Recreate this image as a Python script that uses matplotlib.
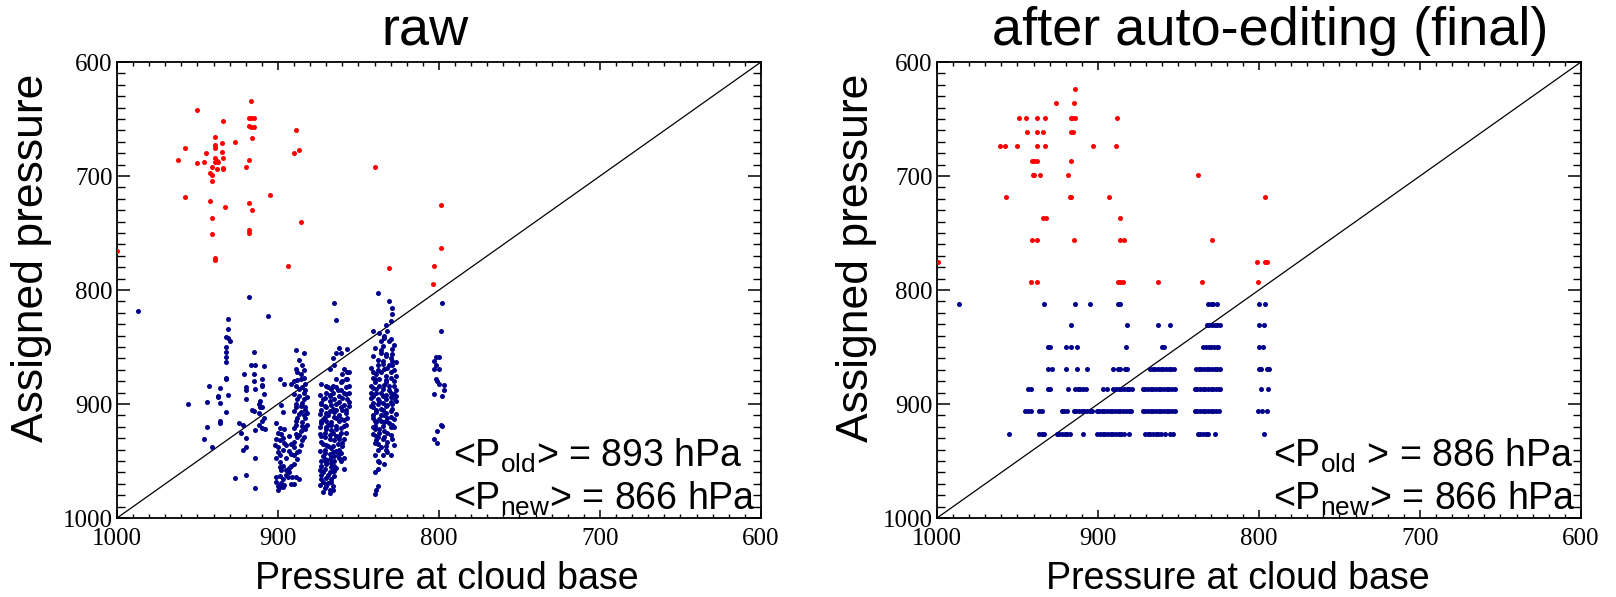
import numpy as np
import matplotlib
matplotlib.use('Agg')
import matplotlib.pyplot as plt
from matplotlib.ticker import MultipleLocator

plt.rcParams['font.family'] = ['Liberation Sans', 'DejaVu Sans']
plt.rcParams['mathtext.fontset'] = 'custom'
plt.rcParams['mathtext.rm'] = 'Liberation Sans'
plt.rcParams['mathtext.it'] = 'Liberation Sans:italic'

# ---------------- data (hPa) ----------------
lims = [1000, 600]
titles = ['raw', 'after auto-editing (final)']
p_old = [893, 886]
p_new = [866, 866]

# raw: points above the cloud (red)
raw_red = [(950, 642), (917, 634), (934, 652), (918, 649), (917, 649), (915, 649), (918, 656), (917, 657),
           (915, 657), (889, 660), (958, 675), (939, 666), (939, 673), (939, 675), (935, 671), (927, 670),
           (916, 667), (945, 680), (935, 679), (887, 677), (890, 680), (962, 686), (950, 689), (946, 688),
           (939, 684), (939, 688), (938, 687), (937, 688), (934, 684), (918, 686), (941, 692), (938, 694),
           (934, 693), (934, 694), (920, 692), (840, 692), (942, 697), (941, 699), (941, 704), (958, 718),
           (905, 717), (942, 722), (933, 727), (918, 724), (916, 730), (941, 737), (886, 740), (918, 747),
           (918, 750), (941, 751), (939, 772), (939, 774), (894, 779), (831, 781), (799, 763), (803, 779),
           (804, 795), (799, 725), (1000, 766)]

# raw: blue points, grouped by column of the scatter
raw_blue_a = [(987, 818), (918, 806), (906, 823), (931, 825), (931, 834), (932, 841), (931, 842), (930, 845),
              (932, 850), (932, 854), (932, 859), (932, 863), (932, 877), (932, 878), (931, 892), (932, 907),
              (936, 915), (936, 917), (937, 893), (937, 894), (936, 886), (936, 899), (943, 884), (944, 898),
              (944, 920), (941, 938), (946, 931), (956, 900)]
raw_blue_b = [(915, 854), (917, 866), (914, 866), (909, 867), (921, 874), (915, 874), (910, 878), (920, 885),
              (915, 880), (914, 887), (910, 883), (920, 888), (920, 896), (916, 905), (915, 906), (912, 900),
              (911, 903), (912, 908), (909, 912), (910, 915), (912, 918), (910, 921), (908, 922), (914, 923),
              (924, 917), (922, 918), (923, 925), (920, 930), (920, 938), (922, 940), (914, 947), (920, 962),
              (927, 965), (914, 974), (910, 884), (909, 891), (911, 897), (910, 903)]
raw_blue_c = [(889, 853), (884, 855), (887, 861), (885, 866), (889, 869), (886, 874), (884, 877), (890, 880),
              (888, 879), (885, 885), (883, 888), (890, 891), (887, 893), (884, 896), (889, 900), (886, 902),
              (883, 903), (890, 906), (887, 909), (884, 910), (889, 915), (885, 916), (882, 918), (890, 921),
              (886, 924), (888, 929), (885, 932), (890, 938), (887, 941), (892, 944), (888, 948), (890, 953),
              (893, 956), (895, 962), (891, 964), (887, 966), (890, 970), (889, 926),
              (884, 870), (888, 872), (886, 878), (883, 882), (889, 884), (887, 887), (884, 890), (882, 894),
              (888, 896), (885, 899), (883, 905), (889, 903), (886, 907), (883, 912), (888, 912), (885, 919),
              (883, 922), (889, 918), (887, 927), (884, 929), (890, 933), (886, 936), (888, 942), (884, 920),
              (882, 908),
              (899, 878), (896, 882), (892, 882), (898, 901), (897, 907), (901, 917), (899, 921), (896, 922),
              (900, 925), (898, 926), (893, 928), (901, 931), (899, 932), (896, 934), (892, 935), (900, 938),
              (897, 940), (893, 941), (901, 947), (899, 945), (895, 947), (890, 945), (899, 951), (897, 954),
              (892, 954), (901, 964), (899, 963), (897, 966), (894, 964), (889, 964), (900, 972), (898, 969),
              (899, 973), (892, 970), (897, 930), (895, 936), (900, 942), (898, 958), (895, 958), (893, 960),
              (901, 968), (896, 971), (899, 955), (902, 936), (900, 975), (897, 973)]
raw_blue_d = [(865, 811), (864, 826), (862, 851), (857, 852), (861, 855), (864, 855), (866, 860), (868, 869),
              (865, 866), (859, 869), (857, 872), (856, 872), (860, 874), (858, 878), (856, 884), (864, 878),
              (861, 881), (866, 884), (870, 890), (872, 896), (873, 899), (871, 902), (868, 893), (862, 893),
              (859, 890), (857, 896), (856, 902), (860, 905), (865, 907), (869, 910), (872, 913), (867, 916),
              (861, 913), (857, 912), (859, 919), (864, 922), (870, 922), (873, 928), (868, 931), (862, 931),
              (859, 931), (860, 937), (866, 937), (871, 940), (872, 946), (867, 946), (862, 940), (859, 947),
              (870, 951), (865, 954), (871, 957), (868, 960), (865, 963), (869, 969), (866, 972), (870, 972),
              (872, 977), (859, 957), (865, 959),
              (873, 905), (870, 908), (868, 897), (866, 904), (864, 900), (862, 910), (860, 895), (858, 905),
              (856, 890), (874, 920), (871, 925), (869, 918), (866, 925), (864, 928), (861, 925), (858, 925),
              (872, 935), (869, 937), (866, 942), (863, 945), (861, 950), (873, 950), (870, 953), (867, 955),
              (873, 962), (870, 965), (867, 966), (872, 968), (866, 975), (868, 978), (874, 958), (871, 943),
              (868, 948), (865, 950), (863, 935), (867, 918), (864, 912), (870, 915), (873, 915), (858, 885),
              (860, 880), (857, 878), (863, 888), (866, 890), (869, 885),
              (873, 882), (870, 884), (867, 887), (864, 885), (861, 888), (858, 891), (874, 892), (871, 895),
              (868, 892), (865, 896), (862, 898), (859, 901), (856, 898), (873, 900), (870, 903), (867, 901),
              (864, 905), (861, 903), (858, 908), (874, 909), (871, 911), (868, 906), (865, 911), (862, 915),
              (859, 914), (873, 917), (870, 920), (867, 923), (864, 919), (861, 921), (858, 918), (874, 926),
              (871, 929), (868, 927), (865, 932), (862, 928), (860, 934), (873, 933), (870, 936), (867, 939),
              (864, 941), (861, 943), (874, 941), (871, 948), (868, 944), (865, 946), (862, 947), (873, 954),
              (870, 949), (867, 952), (864, 956), (872, 960), (869, 962), (866, 959), (873, 966), (870, 970),
              (867, 968), (871, 974), (868, 975), (874, 971)]
raw_blue_e = [(838, 803), (831, 810), (829, 816), (829, 821), (830, 827), (833, 831), (832, 836), (834, 840),
              (830, 843), (835, 849), (829, 852), (836, 855), (833, 858), (829, 862), (838, 866), (841, 872),
              (834, 869), (830, 872), (827, 875), (840, 881), (837, 878), (833, 881), (828, 884), (842, 890),
              (839, 890), (835, 887), (830, 890), (827, 893), (841, 899), (837, 897), (833, 896), (829, 900),
              (839, 905), (835, 905), (830, 906), (841, 910), (836, 910), (832, 912), (828, 913), (839, 916),
              (835, 919), (829, 918), (840, 922), (837, 925), (832, 925), (834, 929), (839, 932), (829, 931),
              (838, 940), (833, 937), (840, 945), (830, 945), (837, 951), (838, 957), (840, 960), (838, 972),
              (839, 975), (840, 979),
              (842, 895), (841, 903), (840, 915), (839, 928), (838, 935), (841, 886), (840, 878), (838, 870),
              (835, 862), (833, 875), (831, 884), (835, 893), (833, 902), (828, 895), (830, 898), (836, 915),
              (833, 915), (830, 920), (827, 888), (841, 920), (832, 942), (835, 945), (838, 950), (834, 953),
              (828, 870), (831, 866), (836, 845), (829, 856), (838, 900), (834, 910),
              (841, 836), (837, 838), (834, 842), (831, 845), (828, 848), (840, 851), (836, 853), (833, 856),
              (830, 860), (827, 863), (841, 858), (838, 861), (835, 865), (832, 868), (829, 866), (842, 868),
              (839, 874), (836, 872), (833, 879), (830, 877), (828, 880), (841, 877), (837, 884), (834, 883),
              (831, 888), (828, 891), (842, 884), (839, 887), (836, 890), (833, 892), (830, 894), (827, 897),
              (841, 893), (838, 896), (835, 899), (832, 901), (829, 904), (842, 902), (839, 907), (836, 904),
              (833, 908), (830, 911), (827, 909), (841, 912), (837, 913), (834, 916), (831, 917), (828, 920),
              (840, 919), (837, 922), (834, 924), (830, 927), (841, 926), (838, 929), (835, 931), (832, 933),
              (828, 936), (840, 934), (836, 938), (833, 940)]
raw_blue_f = [(798, 811), (799, 836), (802, 859), (800, 859), (803, 862), (802, 866), (803, 869), (800, 869),
              (802, 878), (801, 880), (800, 882), (797, 883), (797, 888), (803, 891), (798, 893), (799, 918),
              (798, 919), (801, 924), (803, 931), (801, 934)]

# final: assigned pressures fall on model levels
red_levels = [624, 636, 649, 661, 674, 687, 699, 718, 737, 756, 775, 793]
final_red_x = [[914],
               [926, 915],
               [949, 945, 938, 933, 917, 916, 914, 888],
               [944, 938, 934, 917, 915.5],
               [961, 958, 950, 938, 933, 903, 889],
               [941, 940, 938, 917],
               [940.4, 939.6, 936, 918.4, 838],
               [957, 917.4, 916.8, 893, 796],
               [934, 932.5, 886],
               [941, 938, 915, 886.5, 884, 829],
               [999.5, 801, 796.5, 795],
               [941.4, 938, 887.4, 886, 884.7, 862.5, 835.4, 800.4]]

blue_levels = [812, 831, 850, 869, 887, 906, 926]
final_blue_x = [
    [986, 933.5, 914, 905, 887.4, 886.3, 831.7, 830, 828.4, 826.3, 800, 796],
    [917, 882, 862.5, 855.3, 832.5, 831, 829, 827.5, 826, 824, 800, 797],
    [931.3, 929.8, 920, 916.6, 912.8, 882.6, 860.5, 858.8, 834.6, 833, 831.3, 829.6, 828, 826.3, 825.3,
     800, 797.7],
    [931.3, 928.8, 920, 913.3, 907, 890.5, 887.4, 886.3, 883.2, 882.2, 867.7, 866, 864.4, 862.7, 861,
     859.4, 857.8, 856, 854.5, 853, 839, 837.5, 836, 834, 832.5, 831, 829, 827.5, 826, 824, 800, 798.6,
     795, 794],
    [943.3, 941.8, 931.3, 929.8, 918.4, 914.3, 912.6, 911, 909.3, 907.7, 897, 894.6, 890.5, 888.8, 887.2,
     885.5, 884, 882.2, 880.5, 879, 872.3, 870.6, 869, 867.3, 865.6, 864, 862.3, 860.7, 859, 857.3, 855.7,
     854, 852.4, 840, 838.3, 836.6, 835, 833.3, 831.7, 830, 828.4, 826.7, 825, 824.2, 799, 794.2],
    [945.3, 943.7, 941.6, 936.4, 934.8, 922.6, 921, 919.3, 915, 913.5, 911.8, 910, 908.5, 906.8, 905.2,
     904, 900.8, 899.2, 897.5, 896, 894.2, 892.5, 891, 889.2, 887.6, 886, 884.3, 882.6, 881, 879.3, 872,
     870.5, 869, 867.3, 865.6, 864, 862.3, 860.7, 859, 857.3, 855.7, 854, 852.4, 840, 838.3, 836.6, 835,
     833.3, 831.7, 830, 828.4, 826.7, 825, 800.8, 798.4, 795.3],
    [955, 936.4, 934.8, 933.5, 925.7, 924, 922.4, 920.7, 919, 917.4, 909, 900.4, 898.8, 897, 895.4, 893.8,
     892, 890.5, 888.8, 887.2, 885.5, 884, 881, 870.8, 869.2, 867.5, 865.8, 864.2, 862.5, 861, 858.4,
     855.3, 853.6, 838, 836.4, 834.8, 833, 831.5, 827.3, 797]]

RED = '#ff0000'
BLUE = '#00008b'

# build arrays
raw_red = np.array(raw_red)
raw_blue = np.array(raw_blue_a + raw_blue_b + raw_blue_c + raw_blue_d + raw_blue_e + raw_blue_f)
fin_red = np.array([(x, lev) for lev, xs in zip(red_levels, final_red_x) for x in xs])
fin_blue = np.array([(x, lev) for lev, xs in zip(blue_levels, final_blue_x) for x in xs])

fig = plt.figure(figsize=(16.16, 5.97), dpi=100)
ax1 = fig.add_axes([0.0724, 0.1323, 0.3985, 0.7638])
ax2 = fig.add_axes([0.5798, 0.1323, 0.3985, 0.7638])

# label placement tweaks per panel (axes fraction)
title_x = [0.478, 0.518]
xlabel_x = [0.512, 0.467]
ylabel_x = [-0.101, -0.093]

panels = [(ax1, raw_red, raw_blue), (ax2, fin_red, fin_blue)]
for i, (ax, red, blue) in enumerate(panels):
    ax.plot(lims, lims, color='black', lw=0.9, zorder=1)
    ax.plot(red[:, 0], red[:, 1], 'o', color=RED, ms=3.6, mew=0, zorder=3)
    ax.plot(blue[:, 0], blue[:, 1], 'o', color=BLUE, ms=3.6, mew=0, zorder=3)
    ax.set_xlim(lims)
    ax.set_ylim(lims)
    # ticks: IDL style, inward on all four sides
    ax.xaxis.set_major_locator(MultipleLocator(100))
    ax.xaxis.set_minor_locator(MultipleLocator(10))
    ax.yaxis.set_major_locator(MultipleLocator(100))
    ax.yaxis.set_minor_locator(MultipleLocator(10))
    ax.tick_params(axis='x', which='major', direction='in', length=6, width=1.1,
                   top=True, bottom=True, pad=7, labelsize=18, labelfontfamily='Liberation Serif')
    ax.tick_params(axis='x', which='minor', direction='in', length=3, width=1, top=True, bottom=True)
    ax.tick_params(axis='y', which='major', direction='in', length=9.5, width=1.1,
                   left=True, right=True, pad=3, labelsize=18, labelfontfamily='Liberation Serif')
    ax.tick_params(axis='y', which='minor', direction='in', length=5.5, width=1, left=True, right=True)
    for sp in ax.spines.values():
        sp.set_linewidth(1.3)
    ax.set_title(titles[i], fontsize=39, pad=12, x=title_x[i])
    ax.set_xlabel('Pressure at cloud base', fontsize=27)
    ax.set_ylabel('Assigned pressure', fontsize=32)
    ax.xaxis.set_label_coords(xlabel_x[i], -0.095)
    ax.yaxis.set_label_coords(ylabel_x[i], 0.57)
    gap = '' if i == 0 else r'\ '
    ax.text(791, 955, r'<P$_{\rm old}' + gap + r'$> = %d hPa' % p_old[i], fontsize=27)
    ax.text(791, 993, r'<P$_{\rm new}$> = %d hPa' % p_new[i], fontsize=27)

plt.savefig('out.png', dpi=100)
